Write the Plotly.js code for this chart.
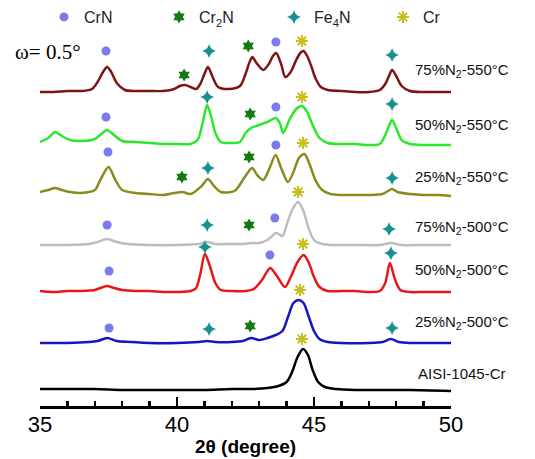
<!DOCTYPE html>
<html>
<head>
<meta charset="utf-8">
<script src="https://cdn.plot.ly/plotly-3.0.1.min.js"></script>
<style>html,body{margin:0;padding:0;background:#fff;}#chart{width:535px;height:459px;}</style>
</head>
<body>
<div id="chart"></div>
<script>
// ---- Data (2θ in degrees, intensity in arbitrary units above each baseline) ----
const seriesNames = ["75%N<sub>2</sub>-550°C", "50%N<sub>2</sub>-550°C", "25%N<sub>2</sub>-550°C",
                     "75%N<sub>2</sub>-500°C", "50%N<sub>2</sub>-500°C", "25%N<sub>2</sub>-500°C", "AISI-1045-Cr"];
const offsets = [312, 259, 209, 159, 112, 61, 14];

const x1 = [35,35.5,36,36.5,36.9,37.1,37.3,37.45,37.6,37.8,38.1,38.5,39,39.5,39.9,40.1,40.3,40.5,40.7,40.85,41.0,41.13,41.3,41.5,41.9,42.3,42.5,42.65,42.75,42.9,43.15,43.35,43.5,43.62,43.8,43.95,44.15,44.35,44.5,44.62,44.75,44.9,45.05,45.25,45.5,46,46.5,47,47.4,47.6,47.75,47.85,48.0,48.2,48.5,49,49.5,50];
const y1 = [0,0,1,1,3,10,20,25,20,9,2,1,1,1,3,6,7,5,3,8,18,25,15,5,3,6,18,30,35,29,22,28,36,39,28,15,20,32,39,41,36,26,14,5,2,1,0,0,2,8,17,22,16,6,1,0,0,0];

const x2 = [35,35.3,35.55,35.8,36.1,36.5,37.0,37.2,37.45,37.7,38.0,38.5,39,39.5,40,40.5,40.75,40.95,41.1,41.25,41.4,41.6,42.0,42.3,42.5,42.7,43.0,43.3,43.6,43.75,43.88,44.1,44.35,44.55,44.75,44.95,45.2,45.5,46,46.5,47,47.4,47.6,47.75,47.85,48.0,48.2,48.5,49,49.5,50];
const y2 = [3,7,13,9,5,4,6,10,15,10,4,3,2,1,1,1,5,24,40,28,12,3,2,3,12,17,20,23,27,22,12,25,36,39,33,20,7,2,1,1,0,1,10,20,25,17,5,1,0,0,0];

const x3 = [35,35.3,35.55,35.8,36.1,36.5,37.0,37.2,37.5,37.75,38.0,38.5,39,39.5,39.9,40.2,40.5,40.9,41.13,41.35,41.6,42.1,42.45,42.74,42.95,43.15,43.35,43.6,43.8,44.05,44.25,44.45,44.65,44.85,45.05,45.3,45.6,46,46.5,47,47.5,47.7,47.85,48.05,48.5,49,49.5,50];
const y3 = [3,5,7,5,3,2,5,15,28,15,5,2,1,0,2,3,1,9,16,9,3,4,17,27,19,15,25,40,27,13,23,37,41,30,15,5,1,0,0,0,1,4,6,3,1,0,0,-1];

const x4 = [35,36,36.8,37.1,37.45,37.8,38.2,39,40,40.8,41.1,41.4,42,42.4,42.7,43.0,43.3,43.62,43.85,44.0,44.2,44.42,44.6,44.8,45.0,45.3,45.7,46.5,47.4,47.8,48.2,49,50];
const y4 = [0,0,1,3,6,3,1,0,0,1,3,1,1,1,2,2,5,12,9,20,35,43,35,17,5,1,0,0,0,2,0,0,0];

const x5 = [35,35.5,36,36.5,37.0,37.2,37.45,37.7,38.0,38.5,39,39.5,40,40.5,40.7,40.85,41.02,41.2,41.4,41.6,42,42.5,42.8,43.1,43.4,43.62,43.94,44.15,44.4,44.62,44.8,45.0,45.2,45.5,46,46.5,47,47.4,47.6,47.77,47.95,48.15,48.5,49,49.5,50];
const y5 = [1,0,1,1,2,4,6,4,2,1,1,0,0,1,4,18,38,26,9,2,1,1,3,12,24,17,5,15,30,37,30,15,5,1,1,1,0,1,9,29,13,2,0,0,0,0];

const x6 = [35,36,36.8,37.1,37.45,37.8,38.3,39,40,40.8,41.1,41.4,42,42.4,42.7,43.0,43.3,43.6,43.85,44.05,44.25,44.45,44.62,44.8,45.0,45.2,45.5,46,47,47.5,47.8,48.1,48.5,49,50];
const y6 = [0,0,1,2,5,2,1,0,0,1,2,1,1,2,5,3,5,8,12,26,40,43,40,27,12,4,1,0,0,1,4,1,0,0,0];

const x7 = [35,36,37,38,39,40,41,42,42.8,43.3,43.7,44.0,44.2,44.4,44.6,44.78,44.95,45.15,45.4,45.8,46.5,47.5,48.5,50];
const y7 = [1,1,1,0,0,0,0,1,1,2,4,8,18,33,41,35,20,8,3,1,0,0,0,-1];

const seriesColors = ["#7E1515", "#2BE82B", "#8A8A1E", "#BDBDBD", "#E81616", "#1616BE", "#000000"];

// phase marker positions (2θ, stacked height)
const crnX  = [37.41,43.61,37.41,43.61,37.48,43.61,37.45,43.57,37.52,43.39,37.52];
const crnY  = [353,362,287,297,252,259,179,186,133,149,76];
const cr2nX = [40.26,42.6,42.67,40.18,42.63,42.63,42.67];
const cr2nY = [329,358,290,227,247,179,78];
const fe4nX = [41.17,47.85,41.1,47.85,41.13,47.85,41.1,47.74,41.02,47.81,41.17,47.85];
const fe4nY = [353,349,307,300,236,226,179,175,157,151,75,76];
const crX   = [44.56,44.56,44.6,44.42,44.6,44.49,44.56];
const crY   = [363,307,261,212,160,114,65];

const tickVals = [35, 40, 45, 50];
const labelY = [334, 279, 227, 177, 134, 82, 31];

// ---- Build ----
const xs = [x1,x2,x3,x4,x5,x6,x7];
const ys = [y1,y2,y3,y4,y5,y6,y7];
const FONT = "Liberation Sans, Arial, sans-serif";
const traces = [];
xs.forEach((xx, i) => {
  traces.push({
    type: "scatter", mode: "lines", x: xx, y: ys[i].map(v => v + offsets[i]),
    line: {color: seriesColors[i], width: 2.5, shape: "spline", smoothing: 0.8},
    showlegend: false, hoverinfo: "skip"
  });
});
traces.push({type:"scatter", mode:"markers", name:"CrN", x:crnX, y:crnY, legend:"legend",
  marker:{symbol:"circle", size:9, color:"#7B7BEE"}, cliponaxis:false, hoverinfo:"skip"});
traces.push({type:"scatter", mode:"markers", name:"Cr<sub>2</sub>N", x:cr2nX, y:cr2nY, legend:"legend2",
  marker:{symbol:"hexagram", size:10, color:"#117A11"}, cliponaxis:false, hoverinfo:"skip"});
traces.push({type:"scatter", mode:"markers", name:"Fe<sub>4</sub>N", x:fe4nX, y:fe4nY, legend:"legend3",
  marker:{symbol:"star-diamond", size:10, color:"#17908E"}, cliponaxis:false, hoverinfo:"skip"});
traces.push({type:"scatter", mode:"markers", name:"Cr", x:crX, y:crY, legend:"legend4",
  marker:{symbol:"asterisk-open", size:10, color:"#C8BE1E", line:{color:"#C8BE1E", width:2}}, cliponaxis:false, hoverinfo:"skip"});
traces.push({type:"scatter", mode:"markers", x:crX, y:crY, showlegend:false,
  marker:{symbol:"circle", size:6, color:"#C8BE1E"}, cliponaxis:false, hoverinfo:"skip"});

function leg(px) {
  return {orientation:"h", xref:"container", yref:"container", x:(px-19)/535, y:1-17/459,
    xanchor:"left", yanchor:"middle", font:{family:FONT, size:16, color:"#222"}, bgcolor:"rgba(0,0,0,0)"};
}

const annotations = seriesNames.map((t, i) => ({
  text: t, xref:"paper", yref:"y", x:(462-40)/411, y:labelY[i], xanchor:"center", yanchor:"middle",
  showarrow:false, font:{family:FONT, size:15, color:"#111"}
}));
annotations.push({text:"ω= 0.5°", xref:"paper", yref:"y", x:(48-40)/411, y:352, xanchor:"center", yanchor:"middle",
  showarrow:false, font:{family:"Liberation Serif, Times New Roman, serif", size:21, color:"#000"}});

const layout = {
  width:535, height:459,
  margin:{l:40, r:84, t:0, b:53, autoexpand:false},
  paper_bgcolor:"#fff", plot_bgcolor:"#fff",
  showlegend:true,
  xaxis:{range:[35,50], tickvals:tickVals, ticktext:tickVals.map(String), ticks:"inside", ticklen:9, tickwidth:2.5, tickcolor:"#000",
    showline:true, linewidth:3, linecolor:"#000", showgrid:false, zeroline:false, fixedrange:true, automargin:false,
    tickfont:{family:FONT, size:22, color:"#000"}, ticklabelstandoff:-3,
    title:{text:"<b>2θ (degree)</b>", font:{family:FONT, size:19, color:"#000"}, standoff:4},
    minor:{dtick:1, ticks:"inside", ticklen:5, tickwidth:2.5, tickcolor:"#000", showgrid:false}},
  yaxis:{range:[-2,404], visible:false, fixedrange:true},
  legend:leg(63), legend2:leg(178), legend3:leg(293), legend4:leg(402),
  annotations: annotations
};

Plotly.newPlot("chart", traces, layout, {staticPlot:true, displayModeBar:false});
</script>
</body>
</html>
